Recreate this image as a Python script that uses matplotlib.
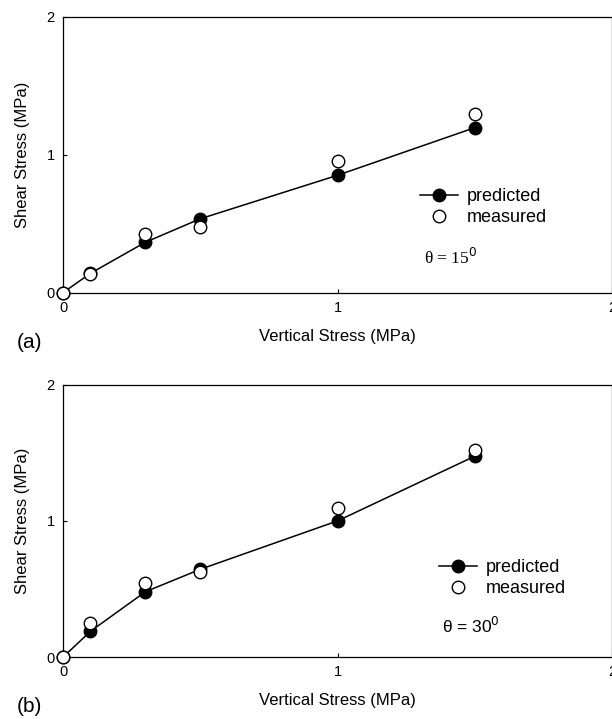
import matplotlib.pyplot as plt

plt.rcParams['font.family'] = ['Liberation Sans', 'DejaVu Sans']

vertical = [0, 0.1, 0.3, 0.5, 1.0, 1.5]

pred_a = [0, 0.14, 0.365, 0.535, 0.85, 1.195]
meas_a = [0, 0.133, 0.425, 0.478, 0.955, 1.295]

pred_b = [0, 0.19, 0.48, 0.645, 1.0, 1.475]
meas_b = [0, 0.252, 0.548, 0.625, 1.098, 1.52]

xticks = [0, 1, 2]
yticks = [0, 1, 2]


def panel(ax, pred, meas, label, theta_txt, theta_pos, leg_anchor, theta_font):
    ax.plot(vertical, pred, '-o', color='black', mfc='black', mec='black',
            ms=9, lw=1.1, label='predicted', clip_on=False, zorder=3)
    ax.plot(vertical, meas, 'o', color='black', mfc='white', mec='black',
            ms=9, mew=1.0, label='measured', clip_on=False, zorder=4)
    ax.set_xlim(0, 2)
    ax.set_ylim(0, 2)
    ax.set_xticks(xticks)
    ax.set_yticks(yticks)
    ax.tick_params(direction='in', length=3, labelsize=10.5, pad=6)
    for s in ax.spines.values():
        s.set_linewidth(0.9)
    ax.set_xlabel('Vertical Stress (MPa)', fontsize=12, labelpad=10)
    ax.set_ylabel('Shear Stress (MPa)', fontsize=12, labelpad=12)
    ax.legend(loc='center left', bbox_to_anchor=leg_anchor, frameon=False,
              fontsize=13, handlelength=2.1, handletextpad=0.5,
              labelspacing=0.2, borderaxespad=0)
    ax.text(theta_pos[0], theta_pos[1], theta_txt, transform=ax.transAxes,
            fontsize=12.5, family=theta_font, va='center')
    ax.text(-0.085, -0.18, label, transform=ax.transAxes, fontsize=15, va='center')


fig = plt.figure(figsize=(6.12, 7.19), dpi=100)
ax1 = fig.add_axes([0.103, 0.593, 0.897, 0.384])
ax2 = fig.add_axes([0.103, 0.086, 0.897, 0.379])

panel(ax1, pred_a, meas_a, '(a)', 'θ = 15$^{0}$', (0.657, 0.125), (0.637, 0.31), 'Liberation Serif')
panel(ax2, pred_b, meas_b, '(b)', 'θ = 30$^{0}$', (0.69, 0.115), (0.672, 0.29), 'Liberation Sans')

fig.savefig('out.png', dpi=100)
